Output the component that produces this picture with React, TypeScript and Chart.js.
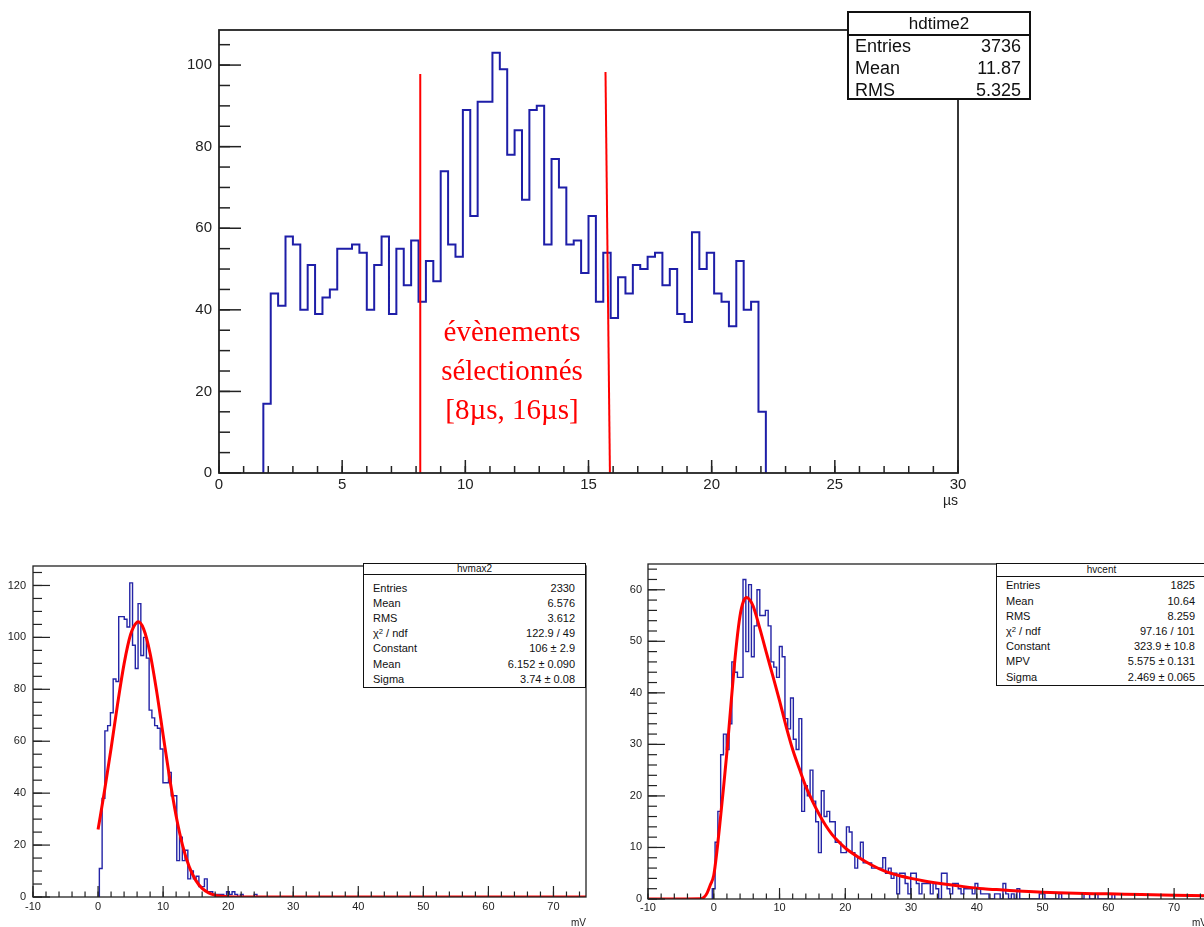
import React, { useEffect, useRef } from 'react';
import { Chart, registerables } from 'chart.js';

Chart.register(...registerables);

const SANS = '"Liberation Sans", Arial, Helvetica, sans-serif';
const SERIF = '"Liberation Serif", "Times New Roman", serif';

// ===== Top histogram: hdtime2 =====
const timeBinStart = 1.8;
const timeBinWidth = 0.3;
const timeCounts = [
  17, 44, 41, 58, 56, 40, 51, 39, 43, 45,
  55, 55, 56, 54, 40, 51, 58, 39, 55, 46,
  57, 42, 52, 47, 74, 56, 53, 89, 63, 91,
  91, 103, 99, 78, 84, 67, 89, 90, 56, 77,
  70, 56, 57, 49, 63, 42, 54, 38, 48, 44,
  51, 50, 53, 54, 46, 50, 39, 37, 59, 50,
  54, 44, 42, 36, 52, 40, 42, 15,
];
const timeXTicks = [0, 5, 10, 15, 20, 25, 30];
const timeYTicks = [0, 20, 40, 60, 80, 100];
const cutLowX = [8.17, 8.17];
const cutLowY = [0, 97.8];
const cutHighX = [15.87, 15.69];
const cutHighY = [0, 98.3];
const selectionText = ['évènements', 'sélectionnés', '[8µs, 16µs]'];
const timeStatsLabels = ['Entries', 'Mean', 'RMS'];
const timeStatsValues = ['3736', '11.87', '5.325'];

// ===== Bottom left: hvmax2 =====
const vmaxBinStart = 0.2;
const vmaxBinWidth = 0.425;
const vmaxCounts = [
  11, 38, 64, 66, 71, 84, 83, 108, 108, 107,
  104, 121, 97, 88, 113, 93, 100, 92, 72, 69,
  66, 65, 57, 44, 44, 48, 39, 39, 14, 23,
  14, 18, 7, 10, 7, 8, 4, 4, 7, 2,
  2, 1, 1, 1, 1, 0, 2, 1, 2, 1,
  0, 1, 0, 0, 0, 0, 1,
];
const gausFitX = [0, 1, 2, 3, 4, 5, 6, 6.15, 7, 8, 9, 10, 11, 12, 13, 14, 15, 16, 17, 18, 19, 20, 22, 25, 75];
const gausFitY = [26, 41, 57.2, 74.3, 89.8, 101.1, 105.9, 106, 103.3, 93.8, 79.3, 62.4, 45.8, 31.2, 19.8, 11.7, 6.5, 3.3, 1.6, 0.7, 0.3, 0.1, 0, 0, 0];
const vmaxXTicks = [-10, 0, 10, 20, 30, 40, 50, 60, 70];
const vmaxYTicks = [0, 20, 40, 60, 80, 100, 120];
const vmaxStatsLabels = ['Entries', 'Mean', 'RMS', 'CHI', 'Constant', 'Mean', 'Sigma'];
const vmaxStatsValues = ['2330', '6.576', '3.612', '122.9 / 49', '106 ± 2.9', '6.152 ± 0.090', '3.74 ± 0.08'];

// ===== Bottom right: hvcent =====
const centBinStart = -0.225;
const centBinWidth = 0.425;
const centCounts = [
  2, 11, 17, 28, 32, 29, 34, 46, 44, 43,
  43, 62, 48, 61, 47, 53, 60, 55, 55, 56,
  53, 46, 45, 43, 49, 47, 35, 33, 39, 31,
  29, 35, 17, 22, 20, 25, 19, 15, 9, 21,
  16, 17, 15, 15, 11, 11, 9, 9, 14, 13,
  9, 6, 8, 11, 7,
  7, 7, 6, 6, 6, 6, 8, 5, 6, 4,
  5, 1, 5, 5, 3, 1, 5, 5, 3, 1,
  3, 3, 3, 1, 3, 2, 0, 5, 5, 2,
  1, 3, 3, 2, 1, 2, 2, 2, 1, 3,
  2, 1, 1, 1, 0, 0, 1, 1, 0, 3,
  1, 0,
  1, 0, 2, 0, 0, 0, 0, 0, 0, 0,
  1, 1, 0, 0, 0, 0, 0, 1, 0, 0,
  0, 0, 0, 0, 0, 0, 1, 1, 0, 0,
  1, 0, 0, 0, 0, 0, 1,
];
const landauFitX = [-10, -2, -1.5, -1, -0.5, 0, 0.5, 1, 1.5, 2, 2.5, 3, 3.5, 4, 4.5, 5, 5.5, 6, 7, 8, 9, 10, 11, 12, 13, 14, 15, 16, 17, 18, 19, 20, 22, 24, 26, 28, 30, 32, 35, 38, 41, 44, 47, 50, 55, 60, 65, 70, 75];
const landauFitY = [0, 0.05, 0.3, 1.2, 2.8, 4.6, 9.5, 15.5, 21.8, 28.5, 36, 43.5, 50, 55, 57.7, 58.5, 58, 56.8, 52.5, 47.8, 43.2, 38.5, 33.5, 29, 25.3, 21.8, 19, 16.5, 14.3, 12.5, 11.1, 9.9, 8.1, 6.6, 5.4, 4.6, 4.0, 3.5, 2.9, 2.4, 2.0, 1.75, 1.5, 1.3, 1.1, 1.0, 0.85, 0.75, 0.65];
const centXTicks = [-10, 0, 10, 20, 30, 40, 50, 60, 70];
const centYTicks = [0, 10, 20, 30, 40, 50, 60];
const centStatsLabels = ['Entries', 'Mean', 'RMS', 'CHI', 'Constant', 'MPV', 'Sigma'];
const centStatsValues = ['1825', '10.64', '8.259', '97.16 / 101', '323.9 ± 10.8', '5.575 ± 0.131', '2.469 ± 0.065'];

// ===== helpers =====
function histPoints(start: number, width: number, counts: number[]) {
  const pts = [{ x: start, y: 0 }];
  counts.forEach((c, i) => pts.push({ x: start + i * width, y: c }));
  pts.push({ x: start + counts.length * width, y: 0 });
  return pts;
}
function xyPoints(xs: number[], ys: number[]) {
  return xs.map((x, i) => ({ x, y: ys[i] }));
}

const rootFrame = {
  id: 'rootFrame',
  afterDatasetsDraw(chart: any, _args: any, o: any) {
    const { ctx, chartArea: a } = chart;
    const xs = chart.scales.x;
    const ys = chart.scales.y;
    ctx.save();
    ctx.strokeStyle = o.color;
    ctx.lineWidth = o.lineWidth;
    const tick = (scale: any, step: number, len: number, horizontal: boolean) => {
      const i0 = Math.ceil(scale.min / step - 1e-9);
      for (let i = i0; i * step <= scale.max + 1e-9; i++) {
        const p = scale.getPixelForValue(i * step);
        ctx.beginPath();
        if (horizontal) {
          ctx.moveTo(p, a.bottom);
          ctx.lineTo(p, a.bottom - len);
        } else {
          ctx.moveTo(a.left, p);
          ctx.lineTo(a.left + len, p);
        }
        ctx.stroke();
      }
    };
    tick(xs, o.xMinor, o.xMinorLen, true);
    tick(xs, o.xMajor, o.xMajorLen, true);
    tick(ys, o.yMinor, o.yMinorLen, false);
    tick(ys, o.yMajor, o.yMajorLen, false);
    ctx.lineWidth = o.frameWidth;
    ctx.strokeRect(a.left, a.top, a.right - a.left, a.bottom - a.top);
    ctx.restore();
  },
};

function makeConfig(p: any) {
  return {
    type: 'line',
    data: { datasets: p.datasets },
    plugins: [rootFrame],
    options: {
      responsive: false,
      animation: false,
      events: [],
      layout: { padding: p.padding },
      plugins: {
        legend: { display: false },
        tooltip: { enabled: false },
        rootFrame: p.frame,
      },
      elements: { point: { radius: 0 } },
      scales: {
        x: {
          type: 'linear',
          min: p.xMin,
          max: p.xMax,
          afterBuildTicks: (s: any) => { s.ticks = p.xTicks.map((v: number) => ({ value: v })); },
          afterFit: (s: any) => { s.height = p.xH; },
          grid: { display: false, drawTicks: false },
          border: { display: false },
          ticks: { autoSkip: false, maxRotation: 0, padding: p.xPad, color: '#222', font: { family: SANS, size: p.tickFont } },
          title: { display: true, text: p.xTitle, align: 'end', color: '#222', font: { family: SANS, size: p.titleFont }, padding: { top: 0, bottom: p.titlePad } },
        },
        y: {
          type: 'linear',
          min: 0,
          max: p.yMax,
          afterBuildTicks: (s: any) => { s.ticks = p.yTicks.map((v: number) => ({ value: v })); },
          afterFit: (s: any) => { s.width = p.yW; },
          grid: { display: false, drawTicks: false },
          border: { display: false },
          ticks: { autoSkip: false, padding: p.yPad, color: '#222', font: { family: SANS, size: p.tickFont } },
        },
      },
    },
  };
}

const topConfig = () => makeConfig({
  datasets: [
    { data: xyPoints(cutLowX, cutLowY), borderColor: '#ff0000', borderWidth: 2, pointRadius: 0 },
    { data: xyPoints(cutHighX, cutHighY), borderColor: '#ff0000', borderWidth: 2, pointRadius: 0 },
    { data: histPoints(timeBinStart, timeBinWidth, timeCounts), borderColor: '#1e1ea8', borderWidth: 2, stepped: 'before', pointRadius: 0 },
  ],
  padding: { left: 0, top: 30, right: 246, bottom: 0 },
  xMin: 0, xMax: 30, yMax: 108.6,
  xTicks: timeXTicks, yTicks: timeYTicks,
  xH: 47, yW: 219, xPad: 3, yPad: 7,
  tickFont: 15, titleFont: 14, titlePad: 10, xTitle: 'µs',
  frame: { color: '#222', lineWidth: 1.5, frameWidth: 1.8, xMajor: 5, xMinor: 1, yMajor: 20, yMinor: 5, xMajorLen: 13, xMinorLen: 7, yMajorLen: 22, yMinorLen: 11 },
});

const vmaxConfig = () => makeConfig({
  datasets: [
    { data: xyPoints(gausFitX, gausFitY), borderColor: '#ff0000', borderWidth: 3, pointRadius: 0, cubicInterpolationMode: 'monotone' },
    { data: histPoints(vmaxBinStart, vmaxBinWidth, vmaxCounts), borderColor: '#2424a6', borderWidth: 1.4, stepped: 'before', pointRadius: 0 },
  ],
  padding: { left: 0, top: 46, right: 14, bottom: 0 },
  xMin: -10, xMax: 75, yMax: 127.5,
  xTicks: vmaxXTicks, yTicks: vmaxYTicks,
  xH: 38, yW: 33, xPad: 3, yPad: 7,
  tickFont: 11, titleFont: 10, titlePad: 6, xTitle: 'mV',
  frame: { color: '#222', lineWidth: 1.2, frameWidth: 1.3, xMajor: 10, xMinor: 2, yMajor: 20, yMinor: 5, xMajorLen: 11, xMinorLen: 5.5, yMajorLen: 17, yMinorLen: 9 },
});

const centConfig = () => makeConfig({
  datasets: [
    { data: xyPoints(landauFitX, landauFitY), borderColor: '#ff0000', borderWidth: 3, pointRadius: 0, cubicInterpolationMode: 'monotone' },
    { data: histPoints(centBinStart, centBinWidth, centCounts), borderColor: '#2424a6', borderWidth: 1.4, stepped: 'before', pointRadius: 0 },
  ],
  padding: { left: 0, top: 44, right: 13, bottom: 0 },
  xMin: -10, xMax: 75, yMax: 65,
  xTicks: centXTicks, yTicks: centYTicks,
  xH: 36, yW: 48, xPad: 2, yPad: 6,
  tickFont: 11, titleFont: 10, titlePad: 6, xTitle: 'mV',
  frame: { color: '#222', lineWidth: 1.2, frameWidth: 1.3, xMajor: 10, xMinor: 2, yMajor: 10, yMinor: 2, xMajorLen: 11, xMinorLen: 5.5, yMajorLen: 17, yMinorLen: 9 },
});

function ChartBox(props: { left: number; top: number; width: number; height: number; build: () => any }) {
  const ref = useRef<HTMLCanvasElement>(null);
  useEffect(() => {
    const chart = new Chart(ref.current as HTMLCanvasElement, props.build());
    return () => chart.destroy();
  }, []);
  const { left, top, width, height } = props;
  return (
    <div style={{ position: 'absolute', left, top, width, height }}>
      <canvas ref={ref} width={width} height={height} style={{ width, height, display: 'block' }} />
    </div>
  );
}

function Label({ text }: { text: string }) {
  if (text === 'CHI') {
    return (
      <span>χ<sup style={{ fontSize: '0.7em', lineHeight: 0, verticalAlign: '0.45em' }}>2</sup> / ndf</span>
    );
  }
  return <span>{text}</span>;
}

function StatsBox(p: {
  left: number; top: number; width: number; height: number; border: number;
  title: string; titleH: number; titleFont: number;
  labels: string[]; values: string[]; rowTop: number; rowH: number; font: number; padL: number; padR: number;
}) {
  return (
    <div style={{ position: 'absolute', left: p.left, top: p.top, width: p.width, height: p.height, border: `${p.border}px solid #111`, boxSizing: 'border-box', background: '#fff', fontFamily: SANS, color: '#111' }}>
      <div style={{ position: 'absolute', left: 0, right: 0, top: 0, height: p.titleH, borderBottom: `${p.border}px solid #111`, textAlign: 'center', fontSize: p.titleFont, lineHeight: `${p.titleH}px`, whiteSpace: 'nowrap' }}>{p.title}</div>
      {p.labels.map((l, i) => (
        <div key={i} style={{ position: 'absolute', left: p.padL, right: p.padR, top: p.rowTop + i * p.rowH, height: p.rowH, lineHeight: `${p.rowH}px`, fontSize: p.font, display: 'flex', justifyContent: 'space-between', whiteSpace: 'nowrap' }}>
          <Label text={l} />
          <span>{p.values[i]}</span>
        </div>
      ))}
    </div>
  );
}

export default function App() {
  return (
    <div style={{ position: 'fixed', left: 0, top: 0, width: 1204, height: 927, overflow: 'hidden', background: '#fff' }}>
      <ChartBox left={0} top={0} width={1204} height={520} build={topConfig} />
      <ChartBox left={0} top={520} width={600} height={415} build={vmaxConfig} />
      <ChartBox left={600} top={520} width={620} height={415} build={centConfig} />

      <div style={{ position: 'absolute', left: 412, top: 312, width: 200, textAlign: 'center', color: '#ff0000', fontFamily: SERIF, fontSize: 29, lineHeight: '39px', whiteSpace: 'nowrap' }}>
        {selectionText.map((t, i) => (<div key={i}>{t}</div>))}
      </div>

      <StatsBox left={847} top={11} width={184} height={89} border={2} title="hdtime2" titleH={21} titleFont={17}
        labels={timeStatsLabels} values={timeStatsValues} rowTop={22} rowH={22} font={18} padL={6} padR={8} />
      <StatsBox left={363} top={563} width={223} height={125} border={1} title="hvmax2" titleH={10} titleFont={10}
        labels={vmaxStatsLabels} values={vmaxStatsValues} rowTop={16.7} rowH={15.17} font={11} padL={9} padR={10} />
      <StatsBox left={996} top={563} width={211} height={123} border={1} title="hvcent" titleH={12} titleFont={10}
        labels={centStatsLabels} values={centStatsValues} rowTop={14.4} rowH={15.2} font={11} padL={9} padR={11} />
    </div>
  );
}
